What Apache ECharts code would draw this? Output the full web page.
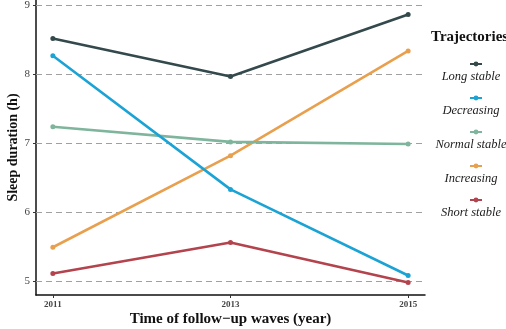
<!DOCTYPE html>
<html>
<head>
<meta charset="utf-8">
<script src="https://cdn.jsdelivr.net/npm/echarts@6/dist/echarts.min.js"></script>
<style>html,body{margin:0;padding:0;background:#fff;}#c{width:506px;height:329px;}</style>
</head>
<body>
<div id="c"></div>
<script>
const years = [2011, 2013, 2015];
const yTicks = [5, 6, 7, 8, 9];
const names = ['Long stable', 'Decreasing', 'Normal stable', 'Increasing', 'Short stable'];
const longStable = [8.52, 7.97, 8.87];
const decreasing = [8.27, 6.33, 5.08];
const normalStable = [7.24, 7.02, 6.99];
const increasing = [5.49, 6.82, 8.34];
const shortStable = [5.11, 5.56, 4.98];
const colors = ['#33494b', '#1ca3d5', '#7fb59c', '#e8a04e', '#b3434c'];

const seriesValues = [longStable, decreasing, normalStable, increasing, shortStable];
const serif = 'Liberation Serif';

const series = seriesValues.map((vals, i) => ({
  name: names[i],
  type: 'line',
  data: vals.map((v, j) => [years[j], v]),
  symbol: 'circle',
  symbolSize: 5,
  lineStyle: { width: 2.6, color: colors[i] },
  itemStyle: { color: colors[i] },
  z: 10 - i
}));
series.push({
  type: 'line',
  data: [],
  silent: true,
  markLine: {
    silent: true,
    symbol: 'none',
    label: { show: false },
    lineStyle: { type: [6, 4], color: '#a0a0a0', width: 1.2 },
    data: yTicks.map(t => ({ yAxis: t }))
  },
  z: 1
});

const legendTops = [64, 98, 132, 166, 200];
const legends = names.map((n, i) => ({
  data: [n],
  left: 469,
  top: legendTops[i] - 3,
  itemWidth: 12,
  itemHeight: 6,
  formatter: () => '',
  textStyle: { fontSize: 6 },
  padding: 0
}));

const chart = echarts.init(document.getElementById('c'));
chart.setOption({
  animation: false,
  color: colors,
  grid: { left: 36, right: 81, top: 0, bottom: 34, outerBoundsMode: 'none', containLabel: false },
  legend: legends,
  xAxis: {
    type: 'value',
    min: 2010.81,
    max: 2015.19,
    name: 'Time of follow\u2212up waves (year)',
    nameLocation: 'middle',
    nameGap: 17,
    nameMoveOverlap: false,
    nameTextStyle: { fontFamily: serif, fontWeight: 'bold', fontSize: 15, color: '#111' },
    axisLine: { show: true, lineStyle: { color: '#111', width: 1.5 } },
    axisTick: { show: true, customValues: years, length: 3, lineStyle: { color: '#333' } },
    axisLabel: { customValues: years, formatter: v => String(v), fontFamily: serif, fontWeight: 'bold', fontSize: 9, color: '#444', margin: 5 },
    splitLine: { show: false }
  },
  yAxis: {
    type: 'value',
    min: 4.797,
    max: 9.08,
    name: 'Sleep duration (h)',
    nameLocation: 'middle',
    nameGap: 16,
    nameMoveOverlap: false,
    nameTextStyle: { fontFamily: serif, fontWeight: 'bold', fontSize: 14, color: '#111' },
    axisLine: { show: true, lineStyle: { color: '#111', width: 1.5 } },
    axisTick: { show: true, customValues: yTicks, length: 3, lineStyle: { color: '#333' } },
    axisLabel: { customValues: yTicks, formatter: v => String(v), fontFamily: serif, fontSize: 11, color: '#444', margin: 6 },
    splitLine: { show: false }
  },
  graphic: [
    { type: 'text', left: 431, top: 30, style: { text: 'Trajectories', font: 'bold 15px "Liberation Serif"', fill: '#111' } }
  ].concat(names.map((n, i) => ({
    type: 'text',
    x: 471,
    y: legendTops[i] + 13,
    style: { text: n, font: 'italic 12.5px "Liberation Serif"', fill: '#222', align: 'center', verticalAlign: 'middle' }
  }))),
  series: series
});
</script>
</body>
</html>
